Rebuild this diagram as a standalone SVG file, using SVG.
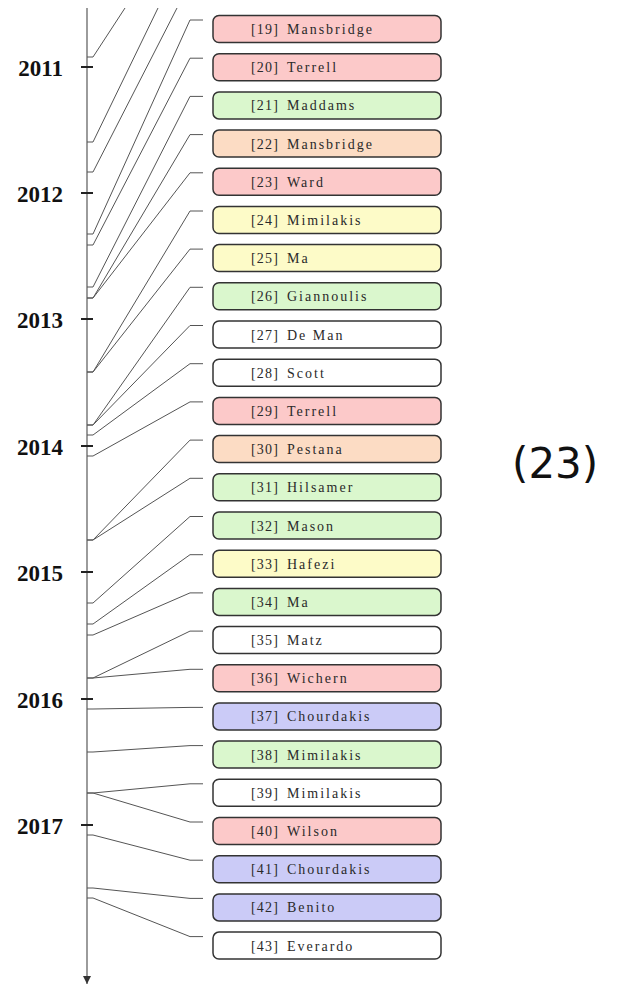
<svg xmlns="http://www.w3.org/2000/svg" width="618" height="986" viewBox="0 0 618 986">
<defs>
<style>
.yr{font-family:"Liberation Serif",serif;font-weight:bold;font-size:23px;fill:#111;text-anchor:end}
.tick{stroke:#222;stroke-width:2}
.axis{stroke:#666;stroke-width:1.3;fill:none}
.con path{stroke:#555;stroke-width:1;fill:none}
.box{stroke:#333;stroke-width:1.5}
.lbl{font-family:"Liberation Serif",serif;font-size:14px;fill:#2a2a2a;letter-spacing:1.2px}
.nm{letter-spacing:2px}
.r{fill:#fcc9c9}.g{fill:#daf7cd}.o{fill:#fcdcc4}.y{fill:#fdfbc8}.b{fill:#cbcbf7}.w{fill:#fff}
.big{font-family:"DejaVu Sans",sans-serif;font-size:42px;fill:#111}
</style>
<marker id="arr" viewBox="0 0 10 10" refX="10" refY="5" markerWidth="8" markerHeight="9" markerUnits="userSpaceOnUse" orient="auto">
<path d="M0,0 L10,5 L0,10 Z" fill="#333"/>
</marker>
</defs>
<rect width="618" height="986" fill="#fff"/>
<g id="axis">
<line class="axis" x1="87" y1="8" x2="87" y2="984" marker-end="url(#arr)"/>
<line class="tick" x1="81" y1="67" x2="93" y2="67"/>
<line class="tick" x1="81" y1="193" x2="93" y2="193"/>
<line class="tick" x1="81" y1="319" x2="93" y2="319"/>
<line class="tick" x1="81" y1="446" x2="93" y2="446"/>
<line class="tick" x1="81" y1="572" x2="93" y2="572"/>
<line class="tick" x1="81" y1="699" x2="93" y2="699"/>
<line class="tick" x1="81" y1="825" x2="93" y2="825"/>
<text class="yr" x="63" y="76">2011</text>
<text class="yr" x="63" y="202">2012</text>
<text class="yr" x="63" y="328">2013</text>
<text class="yr" x="63" y="455">2014</text>
<text class="yr" x="63" y="581">2015</text>
<text class="yr" x="63" y="708">2016</text>
<text class="yr" x="63" y="834">2017</text>
</g>
<g id="connectors" class="con">
<path d="M87,57 H93 L125,8"/>
<path d="M87,142 H93 L158,8"/>
<path d="M87,172 H93 L177,8"/>
<path d="M87,234 H93 L190,20 H203"/>
<path d="M87,245 H93 L190,58.2 H203"/>
<path d="M87,287 H93 L190,96.4 H203"/>
<path d="M87,298 H93 L190,134.6 H203"/>
<path d="M87,298 H93 L190,172.8 H203"/>
<path d="M87,372 H93 L190,211 H203"/>
<path d="M87,372 H93 L190,249.1 H203"/>
<path d="M87,425 H93 L190,287.3 H203"/>
<path d="M87,425 H93 L190,325.5 H203"/>
<path d="M87,435 H93 L190,363.7 H203"/>
<path d="M87,456 H93 L190,401.9 H203"/>
<path d="M87,540 H93 L190,440.1 H203"/>
<path d="M87,540 H93 L190,478.3 H203"/>
<path d="M87,603 H93 L190,516.5 H203"/>
<path d="M87,624 H93 L190,554.7 H203"/>
<path d="M87,635 H93 L190,592.9 H203"/>
<path d="M87,678 H93 L190,631.1 H203"/>
<path d="M87,678 H93 L190,669.3 H203"/>
<path d="M87,709 H93 L190,707.4 H203"/>
<path d="M87,752 H93 L190,745.6 H203"/>
<path d="M87,793 H93 L190,783.8 H203"/>
<path d="M87,793 H93 L190,822 H203"/>
<path d="M87,835 H93 L190,860.2 H203"/>
<path d="M87,888 H93 L190,898.4 H203"/>
<path d="M87,898 H93 L190,936.6 H203"/>
</g>
<g id="n19"><rect class="box r" x="213" y="15.5" width="228" height="27" rx="6"/><text class="lbl" x="251" y="34"><tspan>[19]</tspan><tspan class="nm" x="287">Mansbridge</tspan></text></g>
<g id="n20"><rect class="box r" x="213" y="53.7" width="228" height="27" rx="6"/><text class="lbl" x="251" y="72.2"><tspan>[20]</tspan><tspan class="nm" x="287">Terrell</tspan></text></g>
<g id="n21"><rect class="box g" x="213" y="91.9" width="228" height="27" rx="6"/><text class="lbl" x="251" y="110.4"><tspan>[21]</tspan><tspan class="nm" x="287">Maddams</tspan></text></g>
<g id="n22"><rect class="box o" x="213" y="130.1" width="228" height="27" rx="6"/><text class="lbl" x="251" y="148.6"><tspan>[22]</tspan><tspan class="nm" x="287">Mansbridge</tspan></text></g>
<g id="n23"><rect class="box r" x="213" y="168.3" width="228" height="27" rx="6"/><text class="lbl" x="251" y="186.8"><tspan>[23]</tspan><tspan class="nm" x="287">Ward</tspan></text></g>
<g id="n24"><rect class="box y" x="213" y="206.5" width="228" height="27" rx="6"/><text class="lbl" x="251" y="225"><tspan>[24]</tspan><tspan class="nm" x="287">Mimilakis</tspan></text></g>
<g id="n25"><rect class="box y" x="213" y="244.6" width="228" height="27" rx="6"/><text class="lbl" x="251" y="263.1"><tspan>[25]</tspan><tspan class="nm" x="287">Ma</tspan></text></g>
<g id="n26"><rect class="box g" x="213" y="282.8" width="228" height="27" rx="6"/><text class="lbl" x="251" y="301.3"><tspan>[26]</tspan><tspan class="nm" x="287">Giannoulis</tspan></text></g>
<g id="n27"><rect class="box w" x="213" y="321" width="228" height="27" rx="6"/><text class="lbl" x="251" y="339.5"><tspan>[27]</tspan><tspan class="nm" x="287">De Man</tspan></text></g>
<g id="n28"><rect class="box w" x="213" y="359.2" width="228" height="27" rx="6"/><text class="lbl" x="251" y="377.7"><tspan>[28]</tspan><tspan class="nm" x="287">Scott</tspan></text></g>
<g id="n29"><rect class="box r" x="213" y="397.4" width="228" height="27" rx="6"/><text class="lbl" x="251" y="415.9"><tspan>[29]</tspan><tspan class="nm" x="287">Terrell</tspan></text></g>
<g id="n30"><rect class="box o" x="213" y="435.6" width="228" height="27" rx="6"/><text class="lbl" x="251" y="454.1"><tspan>[30]</tspan><tspan class="nm" x="287">Pestana</tspan></text></g>
<g id="n31"><rect class="box g" x="213" y="473.8" width="228" height="27" rx="6"/><text class="lbl" x="251" y="492.3"><tspan>[31]</tspan><tspan class="nm" x="287">Hilsamer</tspan></text></g>
<g id="n32"><rect class="box g" x="213" y="512" width="228" height="27" rx="6"/><text class="lbl" x="251" y="530.5"><tspan>[32]</tspan><tspan class="nm" x="287">Mason</tspan></text></g>
<g id="n33"><rect class="box y" x="213" y="550.2" width="228" height="27" rx="6"/><text class="lbl" x="251" y="568.7"><tspan>[33]</tspan><tspan class="nm" x="287">Hafezi</tspan></text></g>
<g id="n34"><rect class="box g" x="213" y="588.4" width="228" height="27" rx="6"/><text class="lbl" x="251" y="606.9"><tspan>[34]</tspan><tspan class="nm" x="287">Ma</tspan></text></g>
<g id="n35"><rect class="box w" x="213" y="626.6" width="228" height="27" rx="6"/><text class="lbl" x="251" y="645.1"><tspan>[35]</tspan><tspan class="nm" x="287">Matz</tspan></text></g>
<g id="n36"><rect class="box r" x="213" y="664.8" width="228" height="27" rx="6"/><text class="lbl" x="251" y="683.3"><tspan>[36]</tspan><tspan class="nm" x="287">Wichern</tspan></text></g>
<g id="n37"><rect class="box b" x="213" y="702.9" width="228" height="27" rx="6"/><text class="lbl" x="251" y="721.4"><tspan>[37]</tspan><tspan class="nm" x="287">Chourdakis</tspan></text></g>
<g id="n38"><rect class="box g" x="213" y="741.1" width="228" height="27" rx="6"/><text class="lbl" x="251" y="759.6"><tspan>[38]</tspan><tspan class="nm" x="287">Mimilakis</tspan></text></g>
<g id="n39"><rect class="box w" x="213" y="779.3" width="228" height="27" rx="6"/><text class="lbl" x="251" y="797.8"><tspan>[39]</tspan><tspan class="nm" x="287">Mimilakis</tspan></text></g>
<g id="n40"><rect class="box r" x="213" y="817.5" width="228" height="27" rx="6"/><text class="lbl" x="251" y="836"><tspan>[40]</tspan><tspan class="nm" x="287">Wilson</tspan></text></g>
<g id="n41"><rect class="box b" x="213" y="855.7" width="228" height="27" rx="6"/><text class="lbl" x="251" y="874.2"><tspan>[41]</tspan><tspan class="nm" x="287">Chourdakis</tspan></text></g>
<g id="n42"><rect class="box b" x="213" y="893.9" width="228" height="27" rx="6"/><text class="lbl" x="251" y="912.4"><tspan>[42]</tspan><tspan class="nm" x="287">Benito</tspan></text></g>
<g id="n43"><rect class="box w" x="213" y="932.1" width="228" height="27" rx="6"/><text class="lbl" x="251" y="950.6"><tspan>[43]</tspan><tspan class="nm" x="287">Everardo</tspan></text></g>
<g id="label"><text class="big" x="512" y="478">(23)</text></g>
</svg>
